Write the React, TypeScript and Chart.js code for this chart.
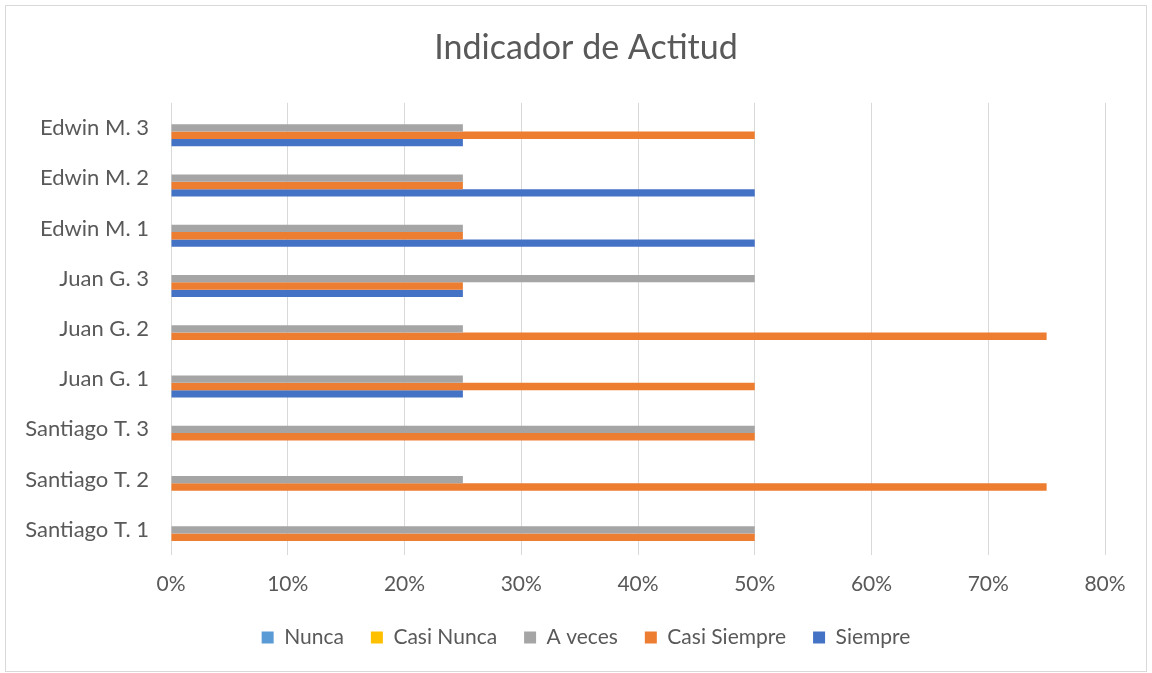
import React, { useEffect, useRef } from "react";
import { Chart, registerables } from "chart.js";

Chart.register(...registerables);

const categories = [
  "Edwin M. 3",
  "Edwin M. 2",
  "Edwin M. 1",
  "Juan G. 3",
  "Juan G. 2",
  "Juan G. 1",
  "Santiago T. 3",
  "Santiago T. 2",
  "Santiago T. 1",
];

const nunca = [0, 0, 0, 0, 0, 0, 0, 0, 0];
const casiNunca = [0, 0, 0, 0, 0, 0, 0, 0, 0];
const aVeces = [25, 25, 25, 50, 25, 25, 50, 25, 50];
const casiSiempre = [50, 25, 25, 25, 75, 50, 50, 75, 50];
const siempre = [25, 50, 50, 25, 0, 25, 0, 0, 0];

const xTicks = [0, 10, 20, 30, 40, 50, 60, 70, 80];

const TEXT = "#595959";
const FONT = "Lato, 'Open Sans', sans-serif";

const framePlugin = {
  id: "frame",
  beforeDraw(chart: any) {
    const ctx = chart.ctx;
    ctx.save();
    ctx.fillStyle = "#ffffff";
    ctx.fillRect(0, 0, chart.width, chart.height);
    ctx.strokeStyle = "#d9d9d9";
    ctx.lineWidth = 1;
    ctx.strokeRect(5.5, 5.5, chart.width - 11, chart.height - 7);
    ctx.restore();
  },
};

export default function App() {
  const ref = useRef<HTMLCanvasElement | null>(null);

  useEffect(() => {
    document.body.style.margin = "0";
    const canvas = ref.current;
    if (!canvas) return;
    const chart = new Chart(canvas, {
      type: "bar",
      data: {
        labels: categories,
        datasets: [
          { label: "Nunca", data: nunca, backgroundColor: "#5B9BD5" },
          { label: "Casi Nunca", data: casiNunca, backgroundColor: "#FFC000" },
          { label: "A veces", data: aVeces, backgroundColor: "#A5A5A5" },
          { label: "Casi Siempre", data: casiSiempre, backgroundColor: "#ED7D31" },
          { label: "Siempre", data: siempre, backgroundColor: "#4472C4" },
        ],
      },
      options: {
        indexAxis: "y",
        animation: false,
        responsive: false,
        maintainAspectRatio: false,
        datasets: {
          bar: { categoryPercentage: 0.73, barPercentage: 1 },
        },
        layout: { padding: { left: 20, right: 0, top: 0, bottom: 15 } },
        plugins: {
          title: {
            display: true,
            text: "Indicador de Actitud",
            color: TEXT,
            font: { family: FONT, size: 34, weight: "normal" },
            padding: { top: 28, bottom: 34 },
          },
          legend: {
            position: "bottom",
            labels: {
              color: TEXT,
              font: { family: FONT, size: 21 },
              boxWidth: 12,
              boxHeight: 12,
              padding: 27,
            },
          },
          tooltip: { enabled: false },
        },
        scales: {
          x: {
            min: 0,
            max: 80,
            afterBuildTicks: (scale: any) => {
              scale.ticks = xTicks.map((v) => ({ value: v }));
            },
            afterFit: (scale: any) => {
              scale.height = 45;
            },
            ticks: {
              color: TEXT,
              font: { family: FONT, size: 21 },
              padding: 17,
              callback: (v: any) => `${v}%`,
            },
            grid: { color: "#d9d9d9", drawTicks: false },
            border: { display: false },
          },
          y: {
            afterFit: (scale: any) => {
              scale.width = 151;
            },
            ticks: {
              color: TEXT,
              font: { family: FONT, size: 22 },
              padding: 22,
            },
            grid: { display: false, drawTicks: false },
            border: { display: false },
          },
          yRight: {
            type: "category",
            position: "right",
            display: true,
            afterFit: (scale: any) => {
              scale.width = 47;
            },
            ticks: { display: false },
            grid: { display: false, drawTicks: false },
            border: { display: false },
          },
        },
      },
      plugins: [framePlugin],
    });
    return () => chart.destroy();
  }, []);

  return (
    <div style={{ width: 1152, height: 673 }}>
      <canvas ref={ref} width={1152} height={673} style={{ display: "block" }} />
    </div>
  );
}
